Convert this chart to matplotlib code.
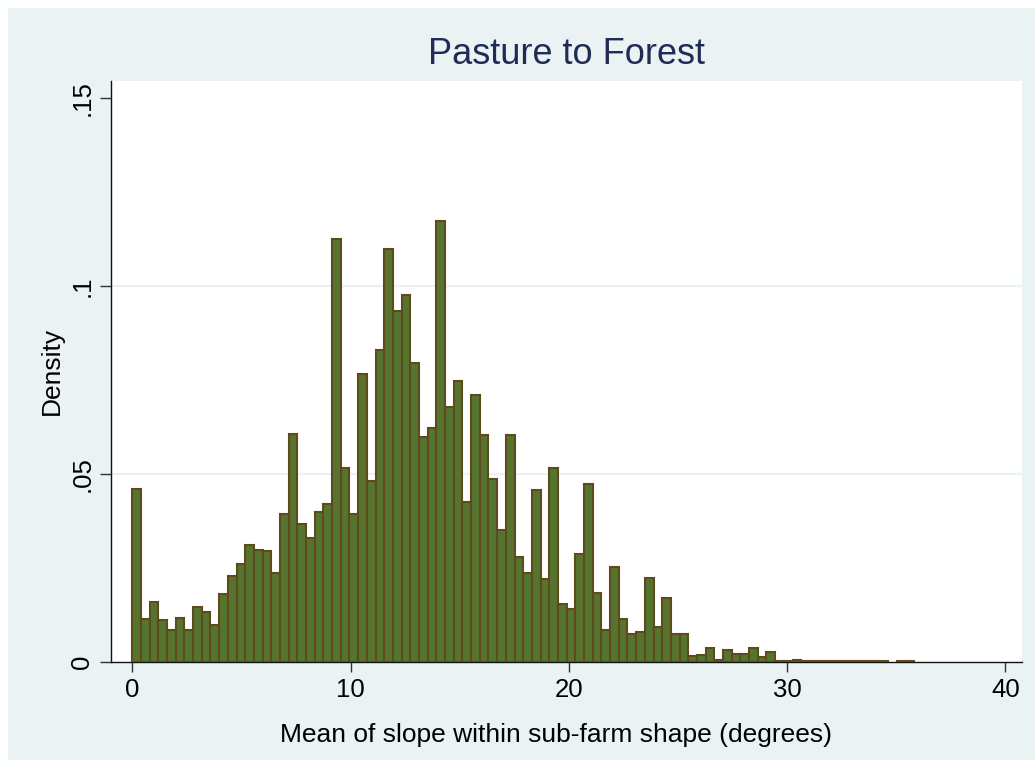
import matplotlib
matplotlib.use('Agg')
import matplotlib.pyplot as plt
from matplotlib.patches import Rectangle
import numpy as np

plt.rcParams['font.family'] = ['Liberation Sans', 'DejaVu Sans']

# histogram of slope (Pasture to Forest), bin width ~0.398 starting at 0
bin_width = 0.398
densidad = [0.0461, 0.0114, 0.0158, 0.0110, 0.0084, 0.0117, 0.0084, 0.0146, 0.0131, 0.0097,
            0.0180, 0.0228, 0.0260, 0.0312, 0.0297, 0.0295, 0.0236, 0.0394, 0.0606, 0.0367,
            0.0329, 0.0399, 0.0420, 0.1126, 0.0515, 0.0393, 0.0766, 0.0482, 0.0831, 0.1098,
            0.0934, 0.0976, 0.0794, 0.0599, 0.0621, 0.1173, 0.0679, 0.0746, 0.0426, 0.0710,
            0.0603, 0.0486, 0.0350, 0.0603, 0.0279, 0.0235, 0.0458, 0.0221, 0.0516, 0.0153,
            0.0139, 0.0286, 0.0473, 0.0184, 0.0084, 0.0251, 0.0113, 0.0075, 0.0079, 0.0223,
            0.0093, 0.0169, 0.0074, 0.0074, 0.0014, 0.0017, 0.0037, 0.0004, 0.0030, 0.0021,
            0.0020, 0.0037, 0.0012, 0.0025, 0.0002, 0.0002, 0.0005, 0.0002, 0.0002, 0.0002,
            0.0002, 0.0002, 0.0002, 0.0002, 0.0002, 0.0002, 0.0002, 0.0, 0.0002, 0.0002]
xticks = [0, 10, 20, 30, 40]
yticks = [0, 0.05, 0.1, 0.15]
yticklabels = ['0', '.05', '.1', '.15']

bordes = np.arange(len(densidad)) * bin_width
densidad = np.array(densidad)
m = densidad > 0

fondo = '#EAF2F3'
fig = plt.figure(figsize=(10.35, 7.6), dpi=100, facecolor='white')
fig.patches.append(Rectangle((8 / 1035, 0), 1, 752 / 760, transform=fig.transFigure,
                             facecolor=fondo, edgecolor='none', zorder=-10))

ax = fig.add_axes([111 / 1035, 1 - 661.7 / 760, 911 / 1035, 580.7 / 760])
ax.set_facecolor('white')
ax.bar(bordes[m], densidad[m], width=bin_width, align='edge',
       color='#55752F', edgecolor='#5E4A1C', linewidth=1.5, zorder=3)

ax.set_xlim(-0.976, 40.76)
ax.set_ylim(0, 0.1546)
for g in [0.05, 0.1]:
    ax.axhline(g, color=fondo, linewidth=1.6, zorder=1)

ax.spines['top'].set_visible(False)
ax.spines['right'].set_visible(False)
for s in ['left', 'bottom']:
    ax.spines[s].set_color('#111111')
    ax.spines[s].set_linewidth(1.0)

ax.set_xticks(xticks)
ax.set_xticklabels([str(t) for t in xticks], fontsize=18.5)
ax.set_yticks(yticks)
ax.set_yticklabels(yticklabels, fontsize=18.5, rotation=90, va='center')
ax.tick_params(axis='x', length=7.5, width=1.0, color='#333333', pad=4)
ax.tick_params(axis='y', length=8, width=1.0, color='#333333', pad=4)

ax.set_xlabel('Mean of slope within sub-farm shape (degrees)', fontsize=19, va='center')
ax.xaxis.set_label_coords(0.4885, -0.126)
ax.set_ylabel('Density', fontsize=19, va='center')
ax.yaxis.set_label_coords(-0.0648, 0.5)

fig.text(567 / 1035, 1 - 55 / 760, 'Pasture to Forest', fontsize=26,
         color='#1F2D56', ha='center', va='center')

plt.savefig('out.png', dpi=100, facecolor='white')
